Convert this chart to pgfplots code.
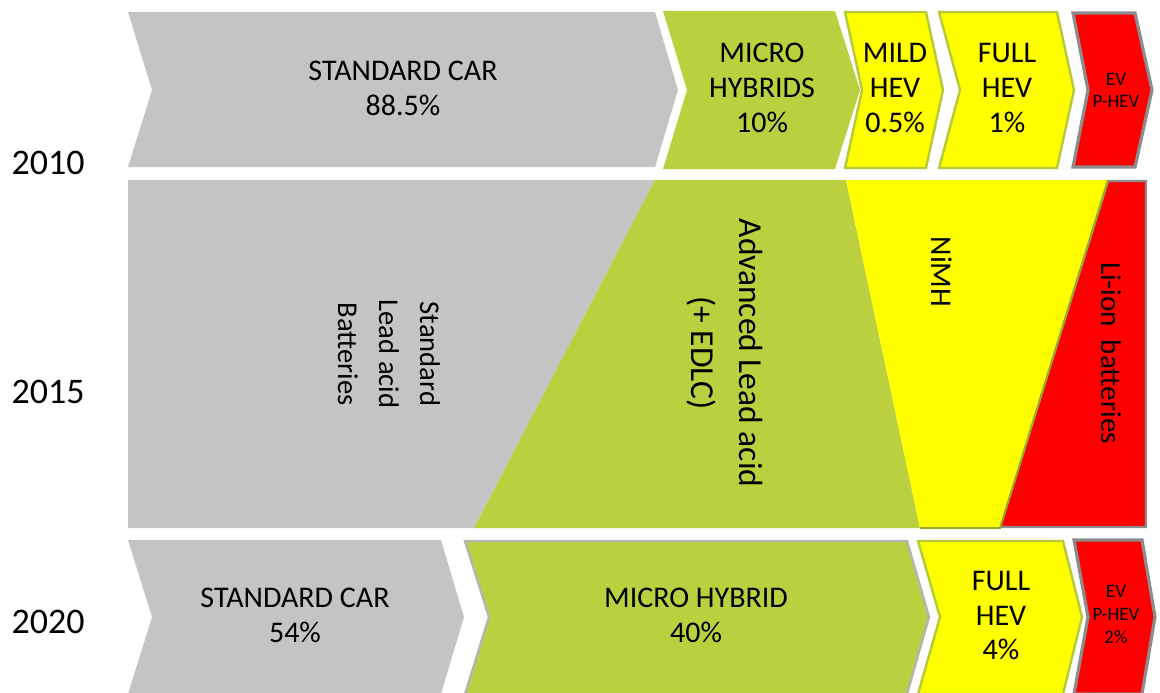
\documentclass[border=0pt]{standalone}
\usepackage{fontspec}
\setmainfont{Carlito}
\usepackage{pgfplots}
\pgfplotsset{compat=1.18}
\definecolor{cgray}{HTML}{C4C4C4}
\definecolor{cgreen}{HTML}{BBD03E}
\definecolor{cyellow}{HTML}{FFFF00}
\definecolor{cred}{HTML}{FF0000}
\definecolor{yborder}{HTML}{B5C93A}
\definecolor{gborder}{HTML}{B4B4B4}
\definecolor{rborder}{HTML}{8C8C8C}
\definecolor{olive}{HTML}{9AA832}
\begin{document}
\begin{tikzpicture}
\begin{axis}[
  width=580pt, height=346pt, scale only axis,
  xmin=0, xmax=1160, ymin=0, ymax=692, y dir=reverse,
  hide axis, clip=true,
]
\addplot[draw=none, forget plot] coordinates {(0,0) (1160,692)};
% ---------- 2010 ----------
\addplot[fill=cgray, draw=none] coordinates {(128,12) (655,12) (678,90) (655,167) (128,167) (152,90)} --cycle;
\addplot[fill=cgreen, draw=none] coordinates {(663,11) (835,11) (860,90) (835,169) (663,169) (687,90)} --cycle;
\addplot[fill=cyellow, draw=yborder, line width=1.2pt] coordinates {(845,12) (926,12) (943,90) (926,168) (845,168) (862,90)} --cycle;
\addplot[fill=cyellow, draw=yborder, line width=1.2pt] coordinates {(939,12) (1057,12) (1074,90) (1057,168) (939,168) (960,90)} --cycle;
\addplot[fill=cred, draw=rborder, line width=1.6pt] coordinates {(1073,13) (1135,13) (1152,90) (1135,167) (1073,167) (1088,90)} --cycle;
% ---------- 2015 ----------
\addplot[fill=cgray, draw=none] coordinates {(128,180) (655,180) (474,528) (128,528)} --cycle;
\addplot[fill=cgreen, draw=none] coordinates {(655,180) (846,180) (920,528) (474,528)} --cycle;
\addplot[fill=cred, draw=rborder, line width=1.2pt] coordinates {(1108,181) (1146,181) (1146,527) (1000,527)} --cycle;
\addplot[fill=cyellow, draw=none] coordinates {(846,180) (1108,180) (1000,528) (920,528)} --cycle;
\addplot[draw=olive, line width=1pt] coordinates {(1108,180) (1000,528) (920,528)};
% ---------- 2020 ----------
\addplot[fill=cgray, draw=none] coordinates {(128,540) (441,540) (464,617) (441,694) (128,694) (152,617)} --cycle;
\addplot[fill=cgreen, draw=gborder, line width=1.2pt] coordinates {(465,541) (907,541) (929,617) (907,694) (465,694) (489,617)} --cycle;
\addplot[fill=cyellow, draw=yborder, line width=1.2pt] coordinates {(918,541) (1063,541) (1082,617) (1063,694) (918,694) (940,617)} --cycle;
\addplot[fill=cred, draw=rborder, line width=1.6pt] coordinates {(1074,540) (1142,540) (1155,617) (1142,694) (1074,694) (1088,617)} --cycle;
% ---------- labels ----------
\tikzset{lab/.style={align=center, inner sep=0pt, text=black}}
\node[lab, font={\fontsize{18pt}{21pt}\selectfont}] at (axis cs:48,163) {2010};
\node[lab, font={\fontsize{18pt}{21pt}\selectfont}] at (axis cs:48,392) {2015};
\node[lab, font={\fontsize{18pt}{21pt}\selectfont}] at (axis cs:48,622) {2020};
% 2010
\node[lab, font={\fontsize{15pt}{17.5pt}\selectfont}] at (axis cs:403,88.5) {STANDARD CAR\\88.5\%};
\node[lab, font={\fontsize{15pt}{17.5pt}\selectfont}] at (axis cs:762,88) {MICRO\\HYBRIDS\\10\%};
\node[lab, font={\fontsize{15pt}{17.5pt}\selectfont}] at (axis cs:895,88) {MILD\\HEV\\0.5\%};
\node[lab, font={\fontsize{15pt}{17.5pt}\selectfont}] at (axis cs:1007,88) {FULL\\HEV\\1\%};
\node[lab, font={\fontsize{9.5pt}{11pt}\selectfont}] at (axis cs:1116,90) {EV\\P-HEV};
% 2015
\node[lab, rotate=-90, font={\fontsize{14.3pt}{20.5pt}\selectfont}] at (axis cs:389,354) {Standard\\Lead acid\\Batteries};
\node[lab, rotate=-90, font={\fontsize{16.75pt}{24pt}\selectfont}] at (axis cs:725,353) {Advanced Lead acid\\(+ EDLC)};
\node[lab, rotate=-90, font={\fontsize{15pt}{18pt}\selectfont}] at (axis cs:942,272) {NiMH};
\node[lab, rotate=-90, font={\fontsize{14.5pt}{18pt}\selectfont}] at (axis cs:1111,353) {Li-ion\ \ batteries};
% 2020
\node[lab, font={\fontsize{15pt}{17.5pt}\selectfont}] at (axis cs:295,615.5) {STANDARD CAR\\54\%};
\node[lab, font={\fontsize{15pt}{17.5pt}\selectfont}] at (axis cs:696,615.5) {MICRO HYBRID\\40\%};
\node[lab, font={\fontsize{15pt}{17.25pt}\selectfont}] at (axis cs:1001,615.5) {FULL\\HEV\\4\%};
\node[lab, font={\fontsize{9.5pt}{11.5pt}\selectfont}] at (axis cs:1116,614.5) {EV\\P-HEV\\2\%};
\end{axis}
\end{tikzpicture}
\end{document}
